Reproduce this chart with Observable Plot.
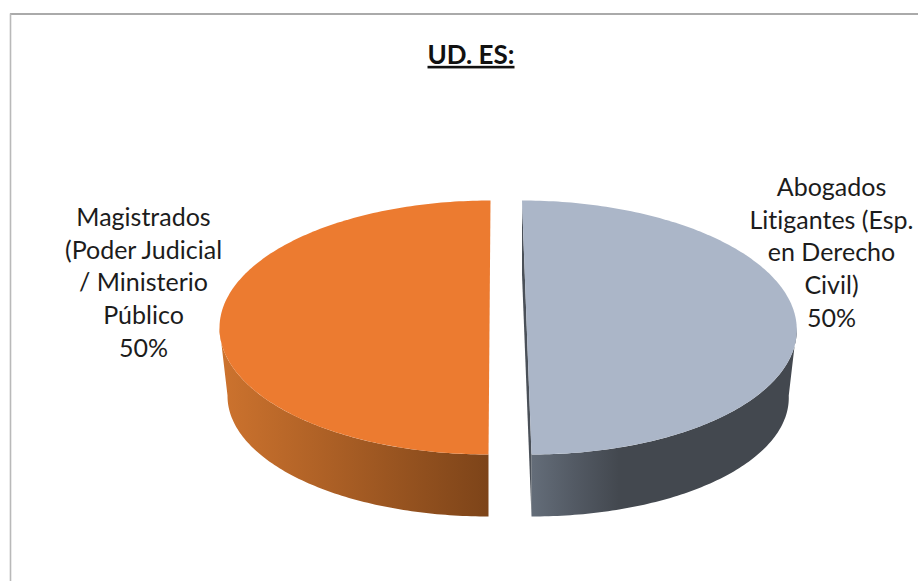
<!DOCTYPE html>
<html lang="es">
<head>
<meta charset="utf-8">
<script src="https://cdn.jsdelivr.net/npm/d3@7"></script>
<script src="https://cdn.jsdelivr.net/npm/@observablehq/plot@0.6"></script>
<style>
  html, body { margin: 0; padding: 0; background: #fff; overflow: hidden; }
  svg { display: block; font-variant-ligatures: none; }
  svg text { font-variant-ligatures: none; font-feature-settings: "liga" 0; }
  .chart-title text { text-decoration: underline; }
</style>
</head>
<body>
<div id="chart"></div>
<script>
// Data
const chartTitle = "UD. ES:";
const categories = ["Abogados\nLitigantes (Esp.\nen Derecho\nCivil)", "Magistrados\n(Poder Judicial\n/ Ministerio\nPúblico"];
const shares = [50, 50];

// Styling and layout, one entry per slice
const topColors = ["#abb6c8", "#ec7b30"];
const wallStops = [
  [[0, "#646d79"], [0.16, "#535a64"], [0.33, "#43484f"], [1, "#43484f"]],
  [[0, "#cd732e"], [1, "#7d4419"]]
];
const sliceCentreX = [526.25, 489];
const sliceSkew = [4.75, -1];
const labelX = [831, 143];
const labelY = [250.5, 280.5];

// The pie as drawn on the page
const pie = {cy: 327, rx: 270, ry: 127, drop: 68, rxBase: 262, ryBase: 121};
const width = 918, height = 581;

function project(i, u, v, base) {
  const rx = base ? pie.rxBase : pie.rx;
  const ry = base ? pie.ryBase : pie.ry;
  return {
    x: sliceCentreX[i] + u * rx + v * sliceSkew[i],
    y: pie.cy + (base ? pie.drop : 0) + v * ry
  };
}
function arc(i, a0, a1, base) {
  const n = Math.max(2, Math.ceil(Math.abs(a1 - a0) * 60));
  return d3.range(n + 1).map(k => {
    const a = a0 + (a1 - a0) * k / n;
    return project(i, Math.sin(a), -Math.cos(a), base);
  });
}

const total = d3.sum(shares);
let running = 0;
const slices = shares.map((s, i) => {
  const a0 = running / total * 2 * Math.PI;
  running += s;
  return {i, a0, a1: running / total * 2 * Math.PI};
});

const marks = [];

// gradient definitions for the side walls
marks.push(() => {
  const defs = d3.create("svg:defs");
  wallStops.forEach((stops, i) => {
    const g = defs.append("linearGradient").attr("id", `wall${i}`)
      .attr("x1", 0).attr("x2", 1).attr("y1", 0).attr("y2", 0);
    stops.forEach(([o, c]) => g.append("stop").attr("offset", o).attr("stop-color", c));
  });
  return defs.node();
});

// frame of the chart area
marks.push(Plot.ruleY([13.5], {x1: 10, x2: width, stroke: "#8e8e8e", strokeWidth: 1.6}));
marks.push(Plot.ruleX([10], {y1: 13.5, y2: height, stroke: "#b9b9b9", strokeWidth: 1.6}));

// visible front walls
for (const {i, a0, a1} of slices) {
  const from = Math.max(a0, Math.PI / 2), to = Math.min(a1, 3 * Math.PI / 2);
  const wall = [...arc(i, from, to, false), ...arc(i, to, from, true)];
  marks.push(Plot.line(wall, {x: "x", y: "y", fill: `url(#wall${i})`, stroke: "none", curve: "linear"}));
}

// cut face showing beside the right slice
for (const {i} of slices) {
  if (sliceSkew[i] <= 0) continue;
  const face = [project(i, 0, -1, false), project(i, 0, 1, false), project(i, 0, 1, true), project(i, 0, -1, true)];
  marks.push(Plot.line(face, {x: "x", y: "y", fill: "#4a5058", stroke: "none", curve: "linear"}));
}

// top faces
for (const {i, a0, a1} of slices) {
  marks.push(Plot.line(arc(i, a0, a1, false), {x: "x", y: "y", fill: topColors[i], stroke: "none", curve: "linear"}));
}

// labels
const labels = categories.map((c, i) => ({text: `${c}\n${shares[i]}%`, x: labelX[i], y: labelY[i]}));
marks.push(Plot.text(labels, {
  x: "x", y: "y", text: "text", fontSize: 25, lineHeight: 1.31, textAnchor: "middle",
  lineAnchor: "middle", fill: "#1c1c1c", fontFamily: "Lato"
}));

// title
marks.push(Plot.text([chartTitle], {
  x: () => 470.5, y: () => 55, text: d => d, fontSize: 26, fontWeight: 700, fill: "#111",
  fontFamily: "Lato", className: "chart-title", lineAnchor: "middle"
}));

const plot = Plot.plot({
  width, height,
  margin: 0,
  x: {domain: [0, width], range: [0, width], axis: null},
  y: {domain: [0, height], range: [0, height], axis: null},
  style: {background: "#fff"},
  marks
});
document.getElementById("chart").append(plot);
</script>
</body>
</html>
